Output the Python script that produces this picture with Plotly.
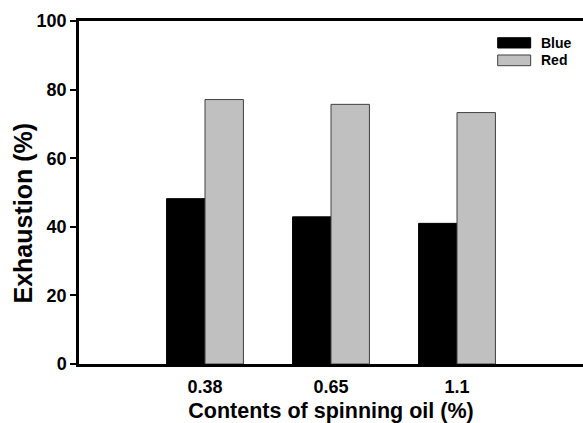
import plotly.graph_objects as go

# Spinning-oil content levels and dye exhaustion (%)
oil_contents = ["0.38", "0.65", "1.1"]
positions = [1, 2, 3]
blue_exhaustion = [48.2, 42.9, 41.0]
red_exhaustion = [77.1, 75.7, 73.3]
y_ticks = [0, 20, 40, 60, 80, 100]

FONT = "Liberation Sans, Arial, sans-serif"

fig = go.Figure()
fig.add_trace(go.Bar(
    x=positions, y=blue_exhaustion, name="Blue",
    marker=dict(color="#000000", line=dict(color="#000000", width=1)),
    showlegend=False,
))
fig.add_trace(go.Bar(
    x=positions, y=red_exhaustion, name="Red",
    marker=dict(color="#c0c0c0", line=dict(color="#404040", width=1)),
    showlegend=False,
))

# Hand-drawn legend: wide swatches with labels, top right of the plot
legend_items = [
    ("Blue", "#000000", "#000000", 0.9213, 0.9513, 0.9364),
    ("Red", "#c0c0c0", "#404040", 0.8697, 0.9009, 0.8854),
]
for label, fill, edge, y0, y1, ty in legend_items:
    fig.add_shape(type="rect", xref="paper", yref="paper",
                  x0=0.8307, x1=0.8962, y0=y0, y1=y1,
                  fillcolor=fill, line=dict(color=edge, width=1))
    fig.add_annotation(xref="paper", yref="paper", x=0.9127, y=ty,
                       text=f"<b>{label}</b>", showarrow=False,
                       xanchor="left", yanchor="middle",
                       font=dict(family=FONT, size=14, color="#000000"))

# Vertical axis title, placed slightly below the plot's mid-height
fig.add_annotation(xref="paper", yref="paper", x=-0.111, y=0.439,
                   text="<b>Exhaustion (%)</b>", showarrow=False,
                   textangle=-90, xanchor="center", yanchor="middle",
                   font=dict(family=FONT, size=25, color="#000000"))

fig.update_layout(
    width=583, height=423,
    margin=dict(l=79, r=0, t=21, b=59),
    paper_bgcolor="white", plot_bgcolor="white",
    barmode="group", bargap=0.39, bargroupgap=0,
    font=dict(family=FONT, color="#000000"),
)

fig.update_xaxes(
    range=[0, 4],
    tickvals=positions,
    ticktext=[f"<b>{t}</b>" for t in oil_contents],
    tickfont=dict(size=18, family=FONT),
    ticks="", ticklabelstandoff=5,
    showgrid=False, zeroline=False,
    showline=True, linecolor="#000000", linewidth=2.5, mirror=True,
    title=dict(text="<b>Contents of spinning oil (%)</b>",
               font=dict(size=21.5, family=FONT), standoff=12),
)
fig.update_yaxes(
    range=[0, 100],
    tickvals=y_ticks,
    ticktext=[f"<b>{v}</b>" for v in y_ticks],
    tickfont=dict(size=18, family=FONT),
    ticks="outside", ticklen=6, tickwidth=2, tickcolor="#000000",
    showgrid=False, zeroline=False,
    showline=True, linecolor="#000000", linewidth=2.5, mirror=False,
)

fig.write_html("out.html")
